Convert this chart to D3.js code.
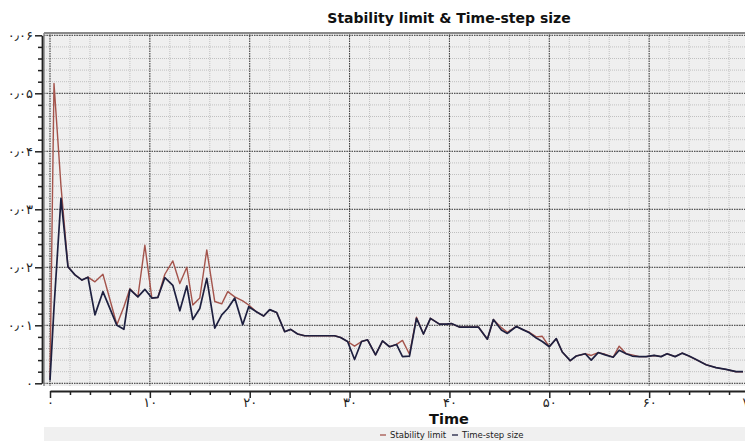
<!DOCTYPE html>
<html><head><meta charset="utf-8">
<script src="https://cdn.jsdelivr.net/npm/d3@7"></script>
<style>body{margin:0;background:#fff;} svg{display:block;}</style>
</head><body>
<svg id="c" width="745" height="441"></svg>
<script>
const times = [0.0,0.4,1.1,1.8,2.5,3.2,3.8,4.5,5.3,6.7,7.4,8.0,8.8,9.5,10.2,10.8,11.5,12.3,13.0,13.7,14.3,15.0,15.7,16.5,17.2,17.8,18.5,19.3,19.9,20.7,21.4,22.0,22.7,23.5,24.1,24.8,25.5,26.3,27.0,28.5,29.1,29.8,30.5,31.2,31.8,32.6,33.3,34.0,34.7,35.3,36.0,36.7,37.4,38.1,39.0,39.7,40.2,41.0,41.7,42.9,43.8,44.4,45.2,45.8,46.7,47.3,48.0,48.7,49.3,50.0,50.7,51.3,52.1,52.7,53.6,54.2,54.9,55.6,56.4,57.0,57.7,58.3,59.0,59.7,60.5,61.2,61.8,62.6,63.3,64.0,64.7,65.7,66.7,67.7,68.7,69.4];
const stabilityLimit = [0.0008,0.0517,0.0340,0.0201,0.0187,0.0178,0.0183,0.0175,0.0188,0.0101,0.0132,0.0163,0.0149,0.0238,0.0147,0.0148,0.0188,0.0211,0.0172,0.0200,0.0135,0.0147,0.0230,0.0141,0.0137,0.0158,0.0149,0.0142,0.0135,0.0123,0.0116,0.0127,0.0122,0.0089,0.0093,0.0085,0.0082,0.0082,0.0082,0.0082,0.0079,0.0072,0.0064,0.0072,0.0075,0.0049,0.0073,0.0063,0.0067,0.0074,0.0050,0.0114,0.0085,0.0112,0.0102,0.0102,0.0103,0.0097,0.0097,0.0097,0.0076,0.0110,0.0096,0.0088,0.0098,0.0093,0.0088,0.0080,0.0081,0.0063,0.0077,0.0054,0.0039,0.0047,0.0051,0.0048,0.0053,0.0050,0.0045,0.0064,0.0051,0.0049,0.0046,0.0046,0.0048,0.0046,0.0051,0.0046,0.0052,0.0047,0.0041,0.0032,0.0027,0.0024,0.0020,0.0020];
const timeStepSize = [0.0005,0.0130,0.0319,0.0201,0.0187,0.0178,0.0183,0.0118,0.0158,0.0100,0.0093,0.0162,0.0149,0.0162,0.0147,0.0148,0.0182,0.0169,0.0125,0.0168,0.0110,0.0129,0.0181,0.0095,0.0118,0.0129,0.0147,0.0101,0.0132,0.0123,0.0116,0.0127,0.0122,0.0089,0.0093,0.0085,0.0082,0.0082,0.0082,0.0082,0.0079,0.0072,0.0041,0.0072,0.0075,0.0049,0.0073,0.0063,0.0067,0.0046,0.0047,0.0112,0.0085,0.0112,0.0102,0.0102,0.0103,0.0097,0.0097,0.0097,0.0076,0.0110,0.0092,0.0086,0.0098,0.0093,0.0087,0.0078,0.0072,0.0063,0.0077,0.0054,0.0039,0.0047,0.0051,0.0040,0.0053,0.0049,0.0045,0.0057,0.0051,0.0047,0.0046,0.0046,0.0048,0.0046,0.0051,0.0046,0.0052,0.0047,0.0041,0.0032,0.0027,0.0024,0.0020,0.0020];
const seriesNames = ["Stability limit","Time-step size"];
const seriesColors = ["#a4544c","#1e2040"];
const xTickValues = [0,10,20,30,40,50,60,70];
const xTickLabels = ["۰","۱۰","۲۰","۳۰","۴۰","۵۰","۶۰","۷۰"];
const yTickValues = [0,0.01,0.02,0.03,0.04,0.05,0.06];
const yTickLabels = ["۰","۰٫۰۱","۰٫۰۲","۰٫۰۳","۰٫۰۴","۰٫۰۵","۰٫۰۶"];
const xMinor = d3.range(0,71,2);
const yMinor = d3.range(0,31,1).map(i=>i*0.002);

const svg = d3.select("#c");
const W = 745, H = 441;
const plot = {l:44, t:33, b:386};
const x = d3.scaleLinear().domain([0,70]).range([50,749]);
const y = d3.scaleLinear().domain([0,0.06]).range([383.3,35.3]);
const font = "'DejaVu Sans', Verdana, sans-serif";

svg.append("rect").attr("x",plot.l).attr("y",plot.t).attr("width",W-plot.l+5).attr("height",plot.b-plot.t)
  .attr("fill","#efefef");

const g = svg.append("g");
g.selectAll(".vmin").data(xMinor).join("line")
  .attr("x1",d=>x(d)).attr("x2",d=>x(d)).attr("y1",plot.t).attr("y2",plot.b)
  .attr("stroke","#c0c0c0").attr("stroke-width",1).attr("stroke-dasharray","1,1");
g.selectAll(".hmin").data(yMinor).join("line")
  .attr("y1",d=>y(d)).attr("y2",d=>y(d)).attr("x1",plot.l).attr("x2",W)
  .attr("stroke","#c0c0c0").attr("stroke-width",1).attr("stroke-dasharray","1,1");
g.selectAll(".vmaj").data(xTickValues).join("line")
  .attr("x1",d=>x(d)).attr("x2",d=>x(d)).attr("y1",plot.t).attr("y2",plot.b)
  .attr("stroke","#3a3a3a").attr("stroke-width",1).attr("stroke-dasharray","1.5,1");
g.selectAll(".hmaj").data(yTickValues).join("line")
  .attr("y1",d=>y(d)).attr("y2",d=>y(d)).attr("x1",plot.l).attr("x2",W)
  .attr("stroke","#3a3a3a").attr("stroke-width",1).attr("stroke-dasharray","1.5,1");

svg.append("line").attr("x1",plot.l).attr("x2",W).attr("y1",plot.t).attr("y2",plot.t)
  .attr("stroke","#8a8a8a").attr("stroke-width",2);
svg.append("line").attr("x1",plot.l).attr("x2",plot.l).attr("y1",plot.t).attr("y2",plot.b)
  .attr("stroke","#8a8a8a").attr("stroke-width",1.5);

const data = times.map((t,i)=>({t, s:stabilityLimit[i], d:timeStepSize[i]}));
const lineS = d3.line().x(d=>x(d.t)).y(d=>y(d.s));
const lineD = d3.line().x(d=>x(d.t)).y(d=>y(d.d));
svg.append("path").datum(data).attr("d",lineS).attr("fill","none")
  .attr("stroke",seriesColors[0]).attr("stroke-width",1.4).attr("stroke-linejoin","round");
svg.append("path").datum(data).attr("d",lineD).attr("fill","none")
  .attr("stroke",seriesColors[1]).attr("stroke-width",1.7).attr("stroke-linejoin","round");

const yAxis = svg.append("g").attr("transform","translate(42,0)")
  .call(d3.axisLeft(y).tickValues(yTickValues).tickFormat((d,i)=>yTickLabels[i]).tickSize(7).tickSizeOuter(0));
svg.append("g").attr("transform","translate(42,0)")
  .call(d3.axisLeft(y).tickValues(yMinor.filter((d,i)=>i%5!==0)).tickFormat("").tickSize(4).tickSizeOuter(0))
  .select(".domain").remove();
const xAxis = svg.append("g").attr("transform","translate(0,391)")
  .call(d3.axisBottom(x).tickValues(xTickValues).tickFormat((d,i)=>xTickLabels[i]).tickSize(7).tickSizeOuter(0));
svg.append("g").attr("transform","translate(0,391)")
  .call(d3.axisBottom(x).tickValues(xMinor.filter((d,i)=>i%5!==0)).tickFormat("").tickSize(4).tickSizeOuter(0))
  .select(".domain").remove();
svg.selectAll(".domain").attr("stroke","#222").attr("stroke-width",1.8);
svg.selectAll(".tick line").attr("stroke","#222").attr("stroke-width",1.5);
svg.selectAll(".tick text").attr("font-family",font).attr("font-size",13).attr("fill","#222");
yAxis.selectAll(".tick text").attr("x",-9);
xAxis.selectAll(".tick text").attr("y",7);

svg.append("text").attr("x",449).attr("y",23).attr("text-anchor","middle")
  .attr("font-family",font).attr("font-weight","bold").attr("font-size",14).attr("fill","#111")
  .text("Stability limit & Time-step size");
svg.append("text").attr("x",449).attr("y",424).attr("text-anchor","middle")
  .attr("font-family",font).attr("font-weight","bold").attr("font-size",14.5).attr("fill","#111")
  .text("Time");

svg.append("rect").attr("x",plot.l).attr("y",427).attr("width",W-plot.l).attr("height",14).attr("fill","#f0f0f0");
const leg = svg.append("g");
const legX = [380,452];
seriesNames.forEach((n,i)=>{
  leg.append("line").attr("x1",legX[i]).attr("x2",legX[i]+6).attr("y1",435).attr("y2",435)
    .attr("stroke",seriesColors[i]).attr("stroke-width",1.3);
  leg.append("text").attr("x",legX[i]+10).attr("y",438).attr("font-family",font).attr("font-size",8.5)
    .attr("fill","#222").text(n);
});
</script>
</body></html>
